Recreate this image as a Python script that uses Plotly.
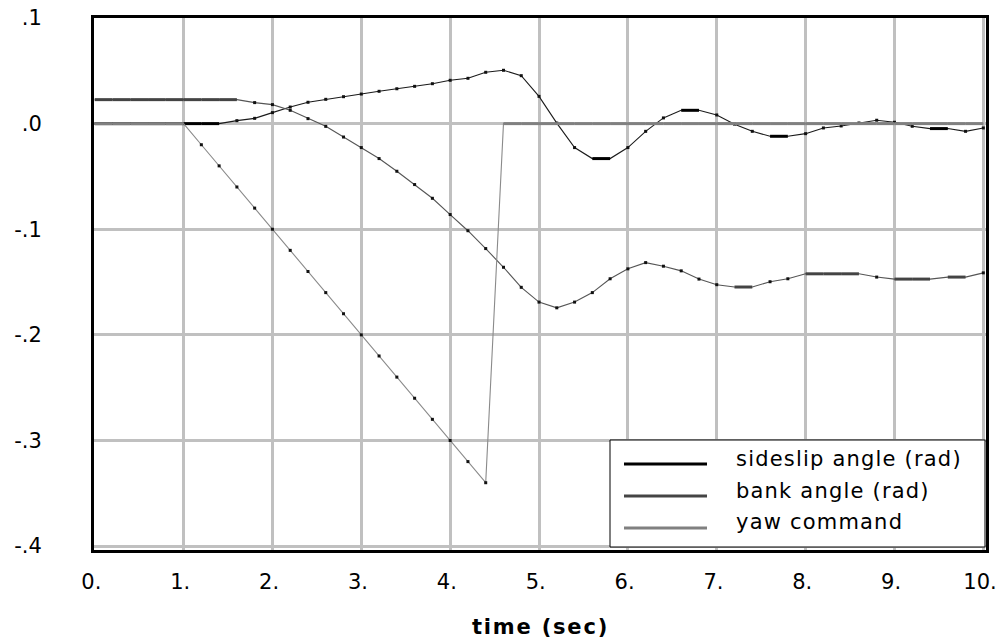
import plotly.graph_objects as go

# ---- data ----
time = [0.0, 0.2, 0.4, 0.6, 0.8, 1.0, 1.2, 1.4, 1.6, 1.8,
        2.0, 2.2, 2.4, 2.6, 2.8, 3.0, 3.2, 3.4, 3.6, 3.8,
        4.0, 4.2, 4.4, 4.6, 4.8, 5.0, 5.2, 5.4, 5.6, 5.8,
        6.0, 6.2, 6.4, 6.6, 6.8, 7.0, 7.2, 7.4, 7.6, 7.8,
        8.0, 8.2, 8.4, 8.6, 8.8, 9.0, 9.2, 9.4, 9.6, 9.8, 10.0]

sideslip = [0, 0, 0, 0, 0, 0, 0, 0, 0.0028, 0.005,
            0.0104, 0.0157, 0.0202, 0.023, 0.0255, 0.028, 0.0306, 0.033, 0.0353, 0.0378,
            0.041, 0.0429, 0.0486, 0.0505, 0.0454, 0.0258, 0.0005, -0.0227, -0.0331, -0.0331,
            -0.0227, -0.0073, 0.0054, 0.0126, 0.0126, 0.0082, -0.0005, -0.0073, -0.012, -0.012,
            -0.0095, -0.0041, -0.0022, 0.0006, 0.0032, 0.0013, -0.0025, -0.0047, -0.0047, -0.0073, -0.0041]

bank = [0.0227, 0.0227, 0.0227, 0.0227, 0.0227, 0.0227, 0.0227, 0.0227, 0.0227, 0.0199,
        0.018, 0.0126, 0.0047, -0.0026, -0.0127, -0.0227, -0.0331, -0.0451, -0.0577, -0.0707,
        -0.0861, -0.1014, -0.1183, -0.136, -0.155, -0.169, -0.1744, -0.169, -0.160, -0.1469,
        -0.1375, -0.1316, -0.135, -0.1394, -0.1472, -0.1525, -0.1547, -0.1547, -0.1497, -0.1469,
        -0.1422, -0.1422, -0.1422, -0.1422, -0.1453, -0.1472, -0.1472, -0.1472, -0.1453, -0.1453, -0.1413]

yaw = [0, 0, 0, 0, 0, 0, -0.02, -0.04, -0.06, -0.08,
       -0.10, -0.12, -0.14, -0.16, -0.18, -0.20, -0.22, -0.24, -0.26, -0.28,
       -0.30, -0.32, -0.34, 0, 0, 0, 0, 0, 0, 0,
       0, 0, 0, 0, 0, 0, 0, 0, 0, 0,
       0, 0, 0, 0, 0, 0, 0, 0, 0, 0, 0]

series_names = ["sideslip angle (rad)", "bank angle (rad)", "yaw command"]
x_ticks = [0, 1, 2, 3, 4, 5, 6, 7, 8, 9, 10]
x_ticktext = ["0.", "1.", "2.", "3.", "4.", "5.", "6.", "7.", "8.", "9.", "10."]
y_ticks = [0.1, 0.0, -0.1, -0.2, -0.3, -0.4]
y_ticktext = [".1", ".0", "-.1", "-.2", "-.3", "-.4"]

FONT = "DejaVu Sans"
thin_colors = ["#1a1a1a", "#555555", "#8a8a8a"]
thick_colors = ["#000000", "#444444", "#808080"]

fig = go.Figure()


def flat_parts(xs, ys):
    """Split a series into flat runs (drawn thick) and marker points (non-flat)."""
    fx, fy, mx, my = [], [], [], []
    n = len(ys)
    for i in range(n - 1):
        if ys[i] == ys[i + 1]:
            fx += [xs[i], xs[i + 1], None]
            fy += [ys[i], ys[i + 1], None]
    for i in range(n):
        prev_eq = i > 0 and ys[i] == ys[i - 1]
        next_eq = i < n - 1 and ys[i] == ys[i + 1]
        if not (prev_eq or next_eq):
            mx.append(xs[i])
            my.append(ys[i])
    return fx, fy, mx, my


for k, ys in enumerate([sideslip, bank, yaw]):
    fx, fy, mx, my = flat_parts(time, ys)
    fig.add_trace(go.Scatter(x=time, y=ys, mode="lines", name=series_names[k],
                             line=dict(color=thin_colors[k], width=1.1),
                             showlegend=False, hoverinfo="skip"))
    fig.add_trace(go.Scatter(x=fx, y=fy, mode="lines",
                             line=dict(color=thick_colors[k], width=3),
                             showlegend=False, hoverinfo="skip", connectgaps=False))
    fig.add_trace(go.Scatter(x=mx, y=my, mode="markers",
                             marker=dict(symbol="square", size=3, color="#111111",
                                         line=dict(width=0)),
                             showlegend=False, hoverinfo="skip"))

# plot-area geometry (pixels)
L, R, T, B = 94, 19, 18, 89
W, H = 1005, 639
pw, ph = W - L - R, H - T - B


def px(xp):
    return (xp - L) / pw


def py(yp):
    return (H - B - yp) / ph


# manual legend (box + sample lines + labels)
shapes = [dict(type="rect", xref="paper", yref="paper",
               x0=px(610), x1=px(985), y0=py(547), y1=py(440),
               fillcolor="white", line=dict(color="black", width=1), layer="above")]
leg_y = [464, 496, 528]
txt_y = [459, 491, 522]
annotations = []
for k in range(3):
    shapes.append(dict(type="line", xref="paper", yref="paper",
                       x0=px(624), x1=px(707), y0=py(leg_y[k]), y1=py(leg_y[k]),
                       line=dict(color=thick_colors[k], width=3), layer="above"))
    annotations.append(dict(xref="paper", yref="paper", x=px(734), y=py(txt_y[k]),
                            text='<span style="letter-spacing:1.2px">' + series_names[k] + "</span>",
                            showarrow=False, xanchor="left", yanchor="middle",
                            font=dict(family=FONT, size=21, color="black")))

annotations.append(dict(xref="paper", yref="paper", x=0.5, y=py(627),
                        text='<span style="letter-spacing:1.8px"><b>time (sec)</b></span>',
                        showarrow=False, xanchor="center", yanchor="middle",
                        font=dict(family=FONT, size=21, color="black")))

fig.update_layout(
    width=W, height=H,
    margin=dict(l=L, r=R, t=T, b=B, pad=0, autoexpand=False),
    plot_bgcolor="white", paper_bgcolor="white",
    showlegend=False,
    shapes=shapes, annotations=annotations,
    font=dict(family=FONT, size=21, color="black"),
)
fig.update_xaxes(range=[-0.008, 10.03], tickmode="array", tickvals=x_ticks,
                 ticktext=[t + "\u00a0" for t in x_ticktext],
                 showgrid=True, gridcolor="#c0c0c0", gridwidth=2.5, zeroline=False,
                 showline=True, linecolor="black", linewidth=3, mirror=True,
                 ticks="", ticklabelstandoff=11, automargin=False,
                 tickfont=dict(family=FONT, size=21, color="black"))
fig.update_yaxes(range=[-0.4037, 0.1], tickmode="array", tickvals=y_ticks,
                 ticktext=y_ticktext,
                 showgrid=True, gridcolor="#c0c0c0", gridwidth=2.5, zeroline=False,
                 showline=True, linecolor="black", linewidth=3, mirror=True,
                 ticks="", ticklabelstandoff=45, automargin=False,
                 tickfont=dict(family=FONT, size=21, color="black"))

fig.write_html("out.html", config={"displayModeBar": False},
               post_script="document.body.style.margin='0';document.body.style.overflow='hidden';")
